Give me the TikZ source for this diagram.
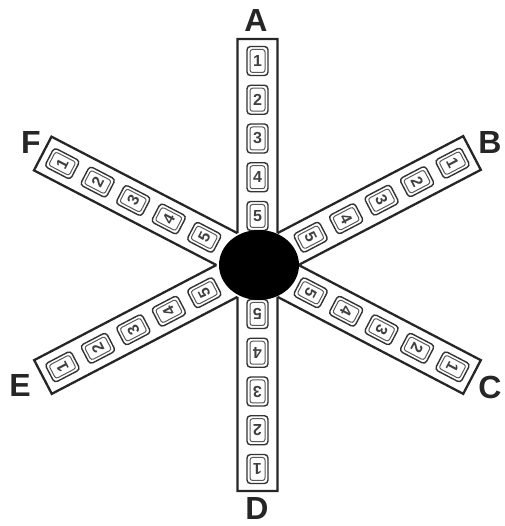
\documentclass[tikz,border=0pt]{standalone}
\usepackage{fontspec}
\setmainfont{Liberation Sans}
\usetikzlibrary{calc,shapes.geometric}
\begin{document}
\begin{tikzpicture}[x=1pt,y=1pt,
  armline/.style={line width=2.3pt, draw=black!85, line join=miter},
  digitbox/.style={draw=black!80, line width=1.4pt, rounded corners=3.5pt, minimum width=21pt, minimum height=29pt, inner sep=0pt, font=\fontsize{16}{16}\selectfont\bfseries, text=black!75},
  innerbox/.style={draw=black!65, line width=1pt, rounded corners=2.5pt, minimum width=15pt, minimum height=23pt, inner sep=0pt},
  armlabel/.style={font=\fontsize{32}{32}\selectfont\bfseries, text=black!85, inner sep=0pt},
  hubstyle/.style={ellipse, fill=black, minimum width=80pt, minimum height=70pt, inner sep=0pt}]
\useasboundingbox (0,0) rectangle (504,526);
\coordinate (O) at (257.5,261);
\foreach \n/\a/\L/\w in {A/90/226/20, B/27.57/242/19, C/-27.57/242/19, D/-90/226/20, E/207.57/242/19, F/152.57/242/19} {
  \coordinate (\n l0) at ($(O)+(\a+90:\w)$);
  \coordinate (\n l1) at ($(O)+(\a:\L)+(\a+90:\w)$);
  \coordinate (\n r0) at ($(O)+(\a-90:\w)$);
  \coordinate (\n r1) at ($(O)+(\a:\L)+(\a-90:\w)$);
}
\foreach \x/\y in {B/A, A/F, F/E, E/D, D/C, C/B}
  \coordinate (\x li) at (intersection of \x l0--\x l1 and \y r0--\y r1);
\foreach \x/\z in {A/B, B/C, C/D, D/E, E/F, F/A}
  \draw[armline] (\x li) -- (\x l1) -- (\x r1) -- (\z li);
% digit boxes
\foreach \n/\a/\s/\p in {A/90/204/38.75, D/-90/204/38.75, B/27.57/220/40, C/-27.57/220/40, E/207.57/220/40, F/152.57/220/40} {
  \foreach \k in {1,...,5} {
    \node[innerbox, rotate=\a-90] (\n in\k) at ($(O)+(\a:\s-\k*\p+\p)$) {};
    \node[digitbox, rotate=\a-90] (\n box\k) at ($(O)+(\a:\s-\k*\p+\p)$) {\k};
  }
}
\node[hubstyle] (hub) at (259,261) {};
\node[armlabel] (lA) at (256,505) {A};
\node[armlabel] (lB) at (490,383) {B};
\node[armlabel] (lC) at (490,139) {C};
\node[armlabel] (lD) at (257,17.5) {D};
\node[armlabel] (lE) at (20,141) {E};
\node[armlabel] (lF) at (31,383) {F};
\end{tikzpicture}
\end{document}
